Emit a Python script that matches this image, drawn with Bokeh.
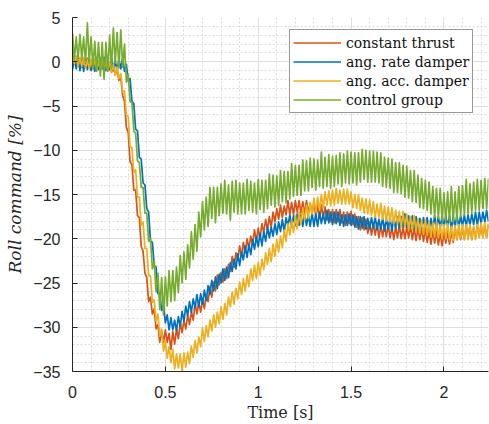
from bokeh.plotting import figure
from bokeh.models import FixedTicker, Legend, LegendItem, Range1d
from bokeh.embed import file_html
from bokeh.resources import INLINE

T_STEP = 0.01

constant_thrust = [
    0.7, -0.2, 0.6, -0.5, 0.3, -0.6, 0.4, -0.4, 0.4, -0.7,
    0.1, -0.8, 0.1, -0.7, 0.1, -0.8, -0.2, -1.0, -0.1, -1.0,
    -0.2, -1.2, -0.3, -1.5, -0.8, -2.1, -1.8, -3.8, -4.5, -7.4,
    -8.0, -11.3, -11.6, -14.5, -14.5, -17.4, -17.6, -20.9, -21.4, -23.9,
    -24.4, -27.1, -26.6, -28.5, -27.9, -30.2, -29.7, -31.7, -30.4, -31.7,
    -30.3, -31.7, -30.7, -32.5, -30.5, -31.9, -30.2, -31.3, -29.5, -30.6,
    -29.2, -30.2, -28.6, -29.7, -28.2, -29.2, -27.3, -28.5, -27.2, -28.3,
    -26.8, -27.9, -26.3, -27.1, -25.4, -26.6, -24.9, -25.9, -24.1, -25.2,
    -23.8, -24.9, -23.4, -24.5, -22.9, -23.7, -22.0, -23.2, -21.6, -22.4,
    -20.8, -22.0, -20.4, -21.6, -20.0, -21.1, -19.7, -20.6, -19.0, -20.3,
    -18.8, -20.0, -18.3, -19.3, -17.8, -19.0, -17.5, -18.7, -17.0, -18.1,
    -16.6, -17.8, -16.2, -17.6, -16.3, -17.3, -15.7, -17.3, -15.9, -17.3,
    -15.7, -17.0, -15.7, -17.1, -15.8, -17.2, -15.7, -17.1, -16.0, -17.2,
    -15.9, -17.4, -16.2, -17.7, -16.2, -17.6, -16.4, -17.9, -16.7, -18.1,
    -16.7, -18.2, -16.7, -18.1, -16.7, -18.2, -17.0, -18.5, -17.0, -18.3,
    -16.9, -18.4, -17.2, -18.7, -17.5, -19.0, -17.6, -19.0, -17.8, -19.4,
    -18.1, -19.6, -18.3, -19.6, -18.2, -19.9, -18.5, -19.8, -18.4, -19.8,
    -18.4, -19.9, -18.7, -20.1, -18.6, -19.9, -18.5, -20.0, -18.7, -20.0,
    -18.6, -19.9, -18.5, -20.1, -18.8, -20.2, -18.8, -20.1, -18.8, -20.3,
    -18.8, -20.4, -19.1, -20.6, -19.1, -20.5, -19.1, -20.7, -19.4, -20.8,
    -19.3, -20.5, -19.2, -20.6, -19.2, -20.4, -18.8, -20.1, -18.8, -20.1,
    -18.8, -20.1, -18.5, -19.9, -18.6, -20.1, -18.7, -19.9, -18.5, -19.8,
    -18.5, -19.8, -18.5, -19.8, -18.4,
]

rate_damper = [
    -0.9, 0.4, -0.8, 0.5, -1.0, 0.3, -1.1, 0.2, -0.9, 0.4,
    -1.0, 0.3, -1.1, 0.2, -0.9, 0.4, -0.8, 0.5, -1.0, 0.3,
    -0.9, 0.5, -1.0, 0.2, -1.1, 0.3, -0.8, 0.4, -1.1, -0.3,
    -2.2, -1.9, -4.5, -4.7, -7.6, -7.8, -10.8, -11.0, -13.7, -13.9,
    -16.6, -17.0, -20.3, -20.4, -23.0, -23.2, -26.2, -26.1, -28.1, -27.5,
    -29.5, -28.6, -30.3, -28.9, -30.3, -29.2, -30.4, -28.8, -29.9, -28.2,
    -29.3, -27.6, -28.7, -27.1, -28.3, -26.8, -27.8, -26.3, -27.7, -26.2,
    -27.4, -25.8, -27.0, -25.3, -26.3, -24.7, -25.9, -24.3, -25.6, -24.0,
    -25.0, -23.4, -24.7, -23.2, -24.4, -22.7, -23.7, -22.3, -23.4, -21.7,
    -23.0, -21.5, -22.4, -20.8, -22.1, -20.7, -21.8, -20.1, -21.2, -19.8,
    -20.9, -19.4, -20.8, -19.2, -20.3, -18.7, -19.9, -18.7, -19.7, -18.3,
    -19.5, -18.1, -19.2, -17.8, -19.2, -17.6, -18.6, -17.3, -18.7, -17.4,
    -18.5, -17.2, -18.5, -17.3, -18.6, -17.1, -18.5, -17.3, -18.6, -17.1,
    -18.6, -17.2, -18.6, -17.0, -18.3, -17.2, -18.3, -16.8, -18.2, -17.0,
    -18.4, -17.0, -18.3, -17.0, -18.5, -17.3, -18.6, -17.3, -18.5, -17.2,
    -18.5, -17.3, -18.7, -17.5, -18.9, -17.5, -18.8, -17.5, -18.9, -17.7,
    -18.9, -17.6, -18.8, -17.5, -19.0, -17.8, -18.9, -17.6, -19.1, -17.7,
    -18.9, -17.6, -19.1, -17.6, -18.8, -17.5, -18.8, -17.5, -18.6, -17.2,
    -18.7, -17.4, -18.6, -17.4, -18.9, -17.5, -18.8, -17.7, -18.9, -17.6,
    -18.9, -17.6, -19.0, -17.7, -18.9, -17.4, -18.8, -17.5, -18.8, -17.4,
    -18.7, -17.4, -18.6, -17.4, -18.9, -17.5, -18.7, -17.3, -18.7, -17.4,
    -18.6, -17.3, -18.6, -17.3, -18.5, -17.2, -18.4, -17.0, -18.5, -17.0,
    -18.3, -17.0, -18.1, -16.8, -18.1,
]

acc_damper = [
    0.9, -0.2, 0.6, -0.5, 0.5, -0.5, 0.5, -0.7, 0.2, -0.8,
    0.2, -0.7, 0.3, -0.9, 0.1, -1.0, 0.1, -0.9, 0.0, -1.0,
    0.0, -1.2, -0.3, -1.5, -0.6, -1.9, -1.3, -3.4, -3.3, -6.0,
    -6.2, -9.6, -9.7, -12.5, -12.2, -15.3, -15.3, -18.5, -18.1, -21.1,
    -21.1, -24.2, -24.2, -27.2, -26.9, -29.3, -28.5, -31.0, -30.2, -32.7,
    -31.6, -33.5, -32.2, -34.0, -32.5, -34.7, -33.0, -34.6, -33.0, -34.9,
    -32.9, -34.5, -32.8, -34.1, -32.1, -33.4, -31.5, -32.9, -31.1, -32.2,
    -30.1, -31.6, -29.8, -31.1, -29.2, -30.4, -28.6, -30.0, -28.3, -29.6,
    -27.7, -29.1, -27.3, -28.6, -26.6, -27.7, -26.0, -27.4, -25.6, -26.8,
    -24.9, -26.3, -24.5, -25.9, -24.1, -25.4, -23.4, -24.7, -23.0, -24.5,
    -22.7, -24.1, -22.3, -23.5, -21.6, -22.9, -21.1, -22.6, -20.6, -22.0,
    -20.1, -21.5, -19.7, -21.0, -19.0, -20.3, -18.3, -19.6, -17.9, -19.3,
    -17.4, -18.9, -17.0, -18.4, -16.5, -17.9, -16.2, -17.7, -15.9, -17.2,
    -15.4, -17.0, -15.3, -16.8, -15.0, -16.5, -14.7, -16.2, -14.6, -16.3,
    -14.5, -16.2, -14.3, -16.0, -14.5, -16.1, -14.4, -16.1, -14.4, -16.1,
    -14.7, -16.5, -15.0, -16.6, -15.0, -16.8, -15.4, -17.1, -15.5, -17.2,
    -15.6, -17.4, -15.8, -17.6, -16.1, -17.6, -16.0, -17.8, -16.3, -18.0,
    -16.4, -18.1, -16.5, -18.3, -16.8, -18.4, -16.9, -18.7, -16.9, -18.7,
    -17.2, -19.0, -17.5, -19.0, -17.4, -19.2, -17.7, -19.4, -17.9, -19.5,
    -17.9, -19.6, -18.1, -19.8, -18.2, -19.8, -18.1, -19.9, -18.4, -20.0,
    -18.4, -20.0, -18.3, -20.1, -18.6, -20.2, -18.5, -20.1, -18.4, -20.0,
    -18.4, -20.1, -18.4, -20.1, -18.4, -20.1, -18.6, -20.1, -18.4, -19.9,
    -18.2, -19.9, -18.2, -19.9, -18.2,
]

control_group = [
    3.2, 0.2, 2.8, 0.2, 3.1, 0.3, 2.8, -0.2, 4.4, -0.1,
    2.8, -0.6, 2.3, -1.1, 2.2, -1.6, 2.2, -2.0, 2.2, -1.1,
    3.0, -0.7, 3.8, -0.2, 3.3, -0.7, 3.6, -0.6, 2.0, -2.3,
    -1.4, -4.5, -4.6, -7.8, -8.1, -11.2, -11.4, -14.2, -14.2, -17.1,
    -17.1, -20.3, -20.0, -23.4, -22.5, -26.0, -23.9, -28.0, -24.4, -28.6,
    -24.3, -27.6, -23.6, -27.1, -23.6, -27.0, -23.2, -26.1, -21.9, -25.0,
    -21.5, -24.6, -20.7, -23.3, -19.2, -22.3, -18.4, -21.4, -17.0, -19.8,
    -15.8, -19.0, -15.3, -18.6, -14.2, -17.7, -14.2, -18.2, -14.2, -17.4,
    -13.8, -17.1, -13.4, -17.2, -13.9, -17.9, -13.5, -17.0, -13.4, -17.2,
    -13.7, -17.2, -13.7, -17.2, -13.3, -16.8, -13.5, -17.0, -13.7, -17.2,
    -13.3, -16.7, -13.4, -17.0, -13.4, -16.6, -12.7, -16.2, -12.8, -16.4,
    -12.9, -16.2, -12.3, -15.8, -12.4, -15.9, -12.4, -15.5, -11.5, -15.2,
    -11.7, -15.1, -11.7, -15.1, -11.1, -14.6, -11.2, -14.6, -10.9, -14.2,
    -11.0, -14.5, -11.1, -14.1, -10.2, -14.3, -10.8, -14.1, -10.5, -14.3,
    -10.7, -14.1, -10.6, -13.8, -10.3, -14.1, -10.4, -13.7, -10.1, -13.8,
    -10.2, -13.7, -10.3, -13.9, -10.3, -13.6, -9.9, -13.3, -10.0, -13.6,
    -10.1, -13.6, -10.1, -13.6, -10.2, -13.7, -10.3, -14.1, -10.8, -14.2,
    -10.9, -14.3, -11.0, -14.8, -11.4, -14.8, -11.4, -14.9, -11.7, -15.3,
    -11.8, -15.4, -12.3, -15.8, -12.3, -15.9, -12.8, -16.5, -13.2, -16.6,
    -13.4, -16.8, -13.6, -17.2, -14.1, -17.6, -14.3, -17.7, -14.3, -18.0,
    -14.8, -18.1, -14.7, -18.1, -14.1, -18.1, -14.7, -18.0, -14.1, -17.5,
    -14.0, -17.3, -13.3, -17.2, -13.8, -17.1, -13.6, -16.8, -13.3, -16.8,
    -13.4, -16.6, -13.2, -16.6, -13.2,
]

time = [round(i * T_STEP, 2) for i in range(len(constant_thrust))]

series_names = ["constant thrust", "ang. rate damper", "ang. acc. damper", "control group"]
series_values = [constant_thrust, rate_damper, acc_damper, control_group]
series_colors = ["#D95319", "#0072BD", "#EDB120", "#77AC30"]

x_ticks = [0, 0.5, 1, 1.5, 2]
x_tick_labels = {0: "0", 0.5: "0.5", 1: "1", 1.5: "1.5", 2: "2"}
y_ticks = [-35, -30, -25, -20, -15, -10, -5, 0, 5]
x_minor = [round(k * 0.1, 1) for k in range(23)]
y_minor = list(range(-35, 6))

AX = "#262626"

p = figure(width=489, height=424, x_range=Range1d(0, 2.24), y_range=Range1d(-35, 5),
           output_backend="svg", toolbar_location=None,
           min_border_left=72, min_border_right=1, min_border_top=17, min_border_bottom=53)
p.outline_line_color = None
p.background_fill_color = "white"

renderers = []
for vals, col in zip(series_values, series_colors):
    r = p.line(time, vals, line_color=col, line_width=1.7, line_join="round")
    renderers.append(r)

p.xaxis.ticker = FixedTicker(ticks=x_ticks, minor_ticks=x_minor)
p.yaxis.ticker = FixedTicker(ticks=y_ticks, minor_ticks=y_minor)
p.xaxis.major_label_overrides = x_tick_labels

for ax in (p.xaxis, p.yaxis):
    ax.axis_line_color = AX
    ax.axis_line_width = 1
    ax.major_tick_in = 5
    ax.major_tick_out = 0
    ax.major_tick_line_color = AX
    ax.minor_tick_line_color = None
    ax.major_label_text_font = "Liberation Sans"
    ax.major_label_text_font_size = "16px"
    ax.major_label_text_color = AX
    ax.axis_label_text_font = "DejaVu Serif"
    ax.axis_label_text_color = AX

p.xaxis.axis_label = "Time [s]"
p.xaxis.axis_label_text_font_size = "16px"
p.xaxis.axis_label_text_font_style = "normal"
p.xaxis.major_label_standoff = 10
p.xaxis.axis_label_standoff = 2
p.yaxis.axis_label = "Roll command [%]"
p.yaxis.axis_label_text_font_size = "17px"
p.yaxis.axis_label_text_font_style = "italic"
p.yaxis.major_label_standoff = 8
p.yaxis.axis_label_standoff = 5

for g in (p.xgrid, p.ygrid):
    g.grid_line_color = "#dedede"
    g.grid_line_width = 1
    g.minor_grid_line_color = "#dcdcdc"
    g.minor_grid_line_dash = "2 2"
    g.minor_grid_line_width = 1

items = [LegendItem(label=n, renderers=[r]) for n, r in zip(series_names, renderers)]
legend = Legend(items=items, location=(217, 258), margin=0, padding=3, spacing=0,
                glyph_width=48, glyph_height=19, label_height=19, label_standoff=5,
                label_text_font="DejaVu Serif", label_text_font_size="14px",
                label_text_color="#111111", border_line_color="#333333",
                border_line_width=1, background_fill_color="white", background_fill_alpha=1)
p.add_layout(legend)

open("out.html", "w").write(file_html(p, INLINE))
